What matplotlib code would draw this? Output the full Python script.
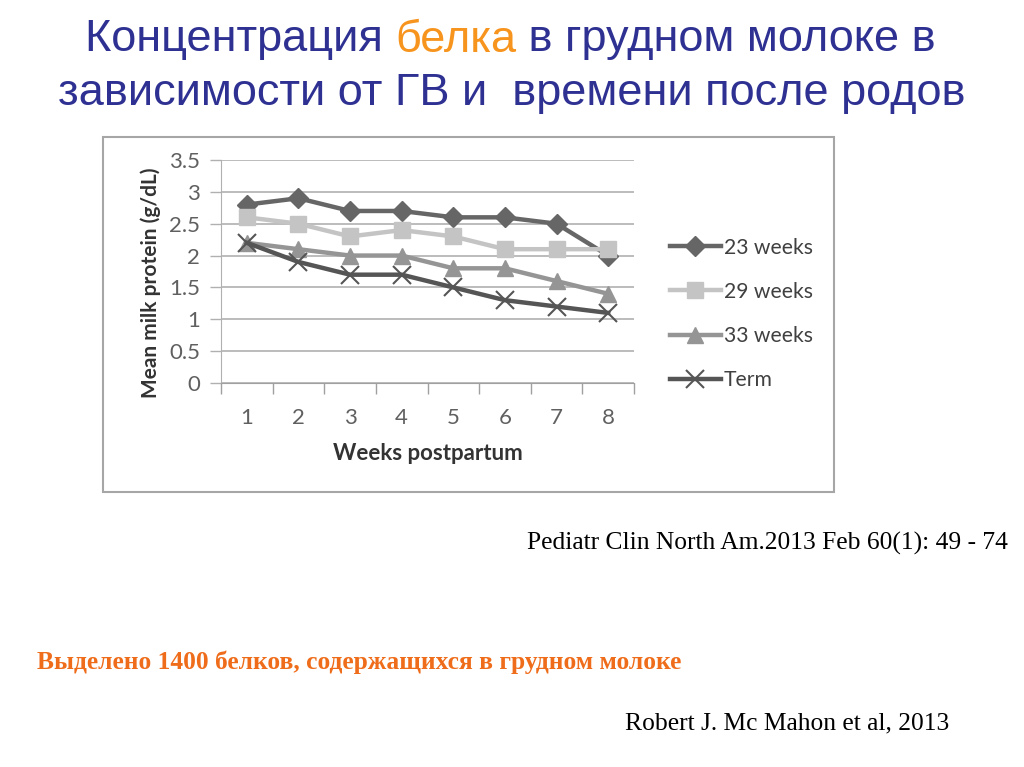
import numpy as np
import matplotlib.pyplot as plt
from matplotlib.patches import Rectangle

weeks = [1, 2, 3, 4, 5, 6, 7, 8]
w23 = [2.8, 2.9, 2.7, 2.7, 2.6, 2.6, 2.5, 2.0]
w29 = [2.6, 2.5, 2.3, 2.4, 2.3, 2.1, 2.1, 2.1]
w33 = [2.2, 2.1, 2.0, 2.0, 1.8, 1.8, 1.6, 1.4]
term = [2.2, 1.9, 1.7, 1.7, 1.5, 1.3, 1.2, 1.1]
yticks = [0, 0.5, 1, 1.5, 2, 2.5, 3, 3.5]
ytick_labels = ['0', '0.5', '1', '1.5', '2', '2.5', '3', '3.5']

W, H = 1024, 767
fig = plt.figure(figsize=(W / 100, H / 100), dpi=100)
fig.patch.set_facecolor('white')

blue = '#2e3192'
orange = '#f7941d'
tfs = 32.5

# title, line 1 in three colour pieces
t1 = fig.text(85 / W, 1 - 40 / H, 'Концентрация ', fontsize=tfs, color=blue,
              family='Liberation Sans', va='center', ha='left')
t2 = fig.text(0, 0, 'белка', fontsize=tfs, color=orange, family='Liberation Sans',
              va='center', ha='left')
t3 = fig.text(0, 0, ' в грудном молоке в', fontsize=tfs, color=blue,
              family='Liberation Sans', va='center', ha='left')
fig.canvas.draw()
r = fig.canvas.get_renderer()
b1 = t1.get_window_extent(r)
t2.set_position((b1.x1 / W, 1 - 40 / H))
b2 = t2.get_window_extent(r)
t3.set_position((b2.x1 / W, 1 - 40 / H))
fig.text(512 / W, 1 - 93 / H, 'зависимости от ГВ и  времени после родов', fontsize=tfs,
         color=blue, family='Liberation Sans', va='center', ha='center')

# frame of the pasted chart
fig.patches.append(Rectangle((103 / W, 1 - 492 / H), (834 - 103) / W, (492 - 137) / H,
                             transform=fig.transFigure, facecolor='none',
                             edgecolor='#a6a6a6', lw=1.5))

ax = fig.add_axes([221 / W, 1 - 383 / H, 413 / W, 223 / H])
ax.set_facecolor('white')
ax.plot(weeks, w23, color='#666666', lw=3.2, marker='D', ms=10, label='23 weeks')
ax.plot(weeks, w29, color='#c4c4c4', lw=3.2, marker='s', ms=12, label='29 weeks')
ax.plot(weeks, w33, color='#959595', lw=3.2, marker='^', ms=12, label='33 weeks')
ax.plot(weeks, term, color='#555555', lw=3.2, marker='x', ms=13, mew=1.5, label='Term')

ax.set_xlim(0.5, 8.5)
ax.set_ylim(0, 3.5)
ax.set_yticks(yticks)
ax.set_yticklabels(ytick_labels)
ax.yaxis.grid(True, color='#b0b0b0', lw=1.2)
ax.set_axisbelow(True)
ax.set_xticks(np.arange(0.5, 9, 1))
ax.set_xticklabels([])
ax.set_xticks(weeks, minor=True)
ax.set_xticklabels([str(w) for w in weeks], minor=True)
ax.tick_params(axis='x', which='major', length=8, color='#a0a0a0', width=1)
ax.tick_params(axis='x', which='minor', length=0, pad=18, labelsize=16, labelcolor='#606060')
ax.tick_params(axis='y', length=8, color='#b0b0b0', width=1, pad=7, labelsize=16,
               labelcolor='#606060')
for s in ['top', 'right']:
    ax.spines[s].set_visible(False)
ax.spines['left'].set_color('#b0b0b0')
ax.spines['bottom'].set_color('#a0a0a0')
for lab in ax.get_xticklabels(minor=True) + ax.get_yticklabels():
    lab.set_family('Lato')

ax.set_xlabel('Weeks postpartum', fontsize=16, fontweight='bold', family='Lato',
              color='#333333', labelpad=11)
ax.set_ylabel('Mean milk protein (g/dL)', fontsize=15, fontweight='bold', family='Lato',
              color='#333333')
ax.yaxis.set_label_coords((161 - 221) / 413, 0.448)

leg = ax.legend(loc='center left', bbox_to_anchor=(670 / W, 1 - 314 / H),
                bbox_transform=fig.transFigure, frameon=False, borderpad=0,
                borderaxespad=0, prop={'family': 'Lato', 'size': 15.2},
                labelspacing=1.15, handlelength=2.4, handletextpad=0.15,
                labelcolor='#404040')

sfs = 18.4
fig.text(527 / W, 1 - 543 / H, 'Pediatr Clin North Am.2013 Feb 60(1): 49 - 74', fontsize=sfs,
         family='Liberation Serif', va='center', ha='left', color='black')
fig.text(37 / W, 1 - 662 / H, 'Выделено 1400 белков, содержащихся в грудном молоке',
         fontsize=sfs, family='Liberation Serif', fontweight='bold', color='#ef6c1a',
         va='center', ha='left')
fig.text(625 / W, 1 - 723 / H, 'Robert J. Mc Mahon et al, 2013', fontsize=sfs,
         family='Liberation Serif', va='center', ha='left', color='black')

fig.savefig('out.png', dpi=100)
